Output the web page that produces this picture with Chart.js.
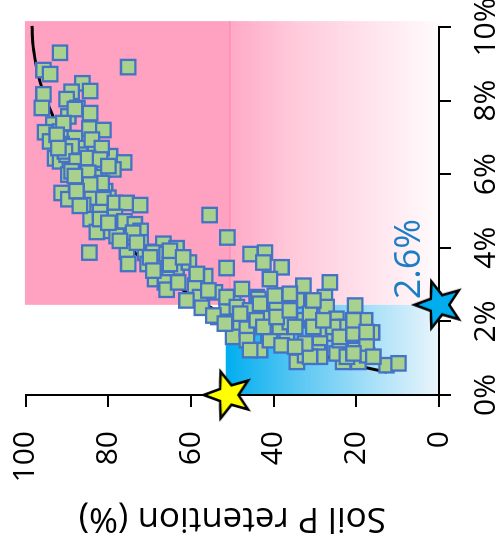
<!DOCTYPE html>
<html>
<head>
<meta charset="utf-8">
<title>Soil P retention</title>
<script src="https://cdn.jsdelivr.net/npm/chart.js@4.4.1/dist/chart.umd.min.js"></script>
<style>
    html, body { margin: 0; padding: 0; background: #fff; overflow: hidden; }
    /* el gráfico se dibuja en horizontal y se gira 90° como la figura original */
    #wrap {
        position: absolute; left: 0; top: 0;
        width: 553px; height: 500px;
        transform-origin: 0 0;
        transform: translate(0, 553px) rotate(-90deg);
    }
</style>
</head>
<body>
<div id="wrap"><canvas id="retentionChart" width="553" height="500"></canvas></div>
<script>
// Datos: P del suelo (%) frente a retención de P (%)
const soilP = [
    9.30, 8.83, 8.72, 8.91, 8.47, 8.24, 8.26, 8.17, 8.04, 7.80,
    7.80, 7.66, 7.35, 7.14, 7.16, 6.98, 6.98, 7.24, 7.20, 6.89,
    6.82, 6.71, 6.68, 6.49, 6.32, 6.43, 6.35, 6.19, 6.53, 6.24,
    6.19, 6.13, 6.13, 5.99, 5.93, 5.92, 6.53, 5.49, 5.32, 5.59,
    5.36, 5.54, 5.36, 5.32, 5.16, 5.22, 5.22, 5.16, 4.89, 4.78,
    4.97, 4.84, 4.72, 4.64, 4.46, 4.43, 4.32, 4.46, 4.28, 3.87,
    3.89, 3.56, 4.15, 3.86, 3.56, 3.89, 4.11, 3.99, 3.87, 3.56,
    3.68, 3.47, 3.60, 3.45, 3.27, 3.23, 3.20, 3.15, 3.83, 3.87,
    3.60, 3.47, 3.06, 3.15, 3.15, 3.06, 2.86, 3.06, 2.97, 2.79,
    2.66, 2.57, 2.37, 2.12, 2.38, 2.66, 2.88, 2.66, 2.12, 1.89,
    1.58, 1.80, 2.61, 2.21, 2.39, 2.70, 2.57, 1.94, 1.67, 2.03,
    1.67, 2.97, 2.66, 2.39, 2.21, 2.07, 1.85, 1.49, 1.31, 2.16,
    1.22, 1.49, 1.35, 1.67, 0.90, 0.90, 0.90, 0.81, 0.86, 1.49,
    1.22, 1.85, 1.98, 1.85, 1.40, 1.13, 1.04, 2.43, 2.03, 1.70,
    1.49, 1.22, 1.08, 1.16, 1.08,
    7.57, 7.77, 7.39, 7.07, 6.76, 6.62, 6.94, 6.71, 6.71, 6.35,
    6.44, 6.40, 6.22, 6.08, 6.04, 5.95, 5.76, 5.72, 5.54, 5.14,
    4.78, 4.68, 4.41, 4.19, 4.14, 3.74, 3.83, 3.56, 3.38, 3.92,
    3.74, 3.29, 2.84, 2.66, 2.39, 2.30, 2.48, 2.70, 2.75, 2.21,
    2.03, 1.94, 1.85, 2.12, 2.30, 1.85, 1.85, 1.58, 1.67, 1.40,
    1.04, 1.13, 1.04, 1.04, 1.40, 1.31, 2.03, 2.57, 2.03, 1.71
];
const retention = [
    91.7, 95.7, 94.1, 75.2, 86.3, 88.9, 84.4, 95.7, 90.1, 96.1,
    87.5, 84.4, 93.3, 95.3, 91.7, 89.5, 88.1, 84.6, 81.2, 94.1,
    91.3, 86.1, 83.2, 79.6, 76.2, 92.9, 91.7, 89.3, 86.9, 85.7,
    83.2, 81.1, 78.8, 89.7, 86.5, 83.2, 90.1, 91.3, 89.7, 86.1,
    84.0, 80.8, 80.0, 81.2, 86.1, 78.4, 75.6, 72.3, 55.5, 84.3,
    82.0, 78.4, 76.1, 73.6, 80.8, 82.8, 78.0, 72.2, 51.2, 84.6,
    75.5, 75.2, 72.2, 71.1, 70.5, 68.3, 66.7, 63.5, 69.1, 65.1,
    63.1, 63.5, 60.5, 51.4, 58.6, 56.6, 67.9, 65.9, 45.6, 42.1,
    42.5, 38.1, 26.4, 40.9, 68.7, 66.3, 65.9, 63.1, 59.0, 54.2,
    57.8, 61.1, 57.4, 53.4, 51.4, 49.8, 47.7, 44.1, 46.1, 48.1,
    49.8, 46.5, 43.7, 40.9, 39.3, 37.7, 34.4, 38.1, 36.8, 34.4,
    41.3, 32.8, 27.6, 27.2, 31.2, 24.8, 22.3, 19.1, 21.5, 54.6,
    43.3, 40.9, 38.1, 27.2, 34.4, 23.2, 19.5, 12.7, 9.8, 46.5,
    45.7, 38.5, 36.1, 30.4, 28.8, 24.8, 22.3, 20.3, 17.9, 16.2,
    24.0, 20.3, 17.4, 29.3, 32.4,
    89.7, 88.1, 90.9, 92.5, 88.9, 90.5, 84.0, 81.6, 92.1, 87.7,
    84.9, 82.0, 80.0, 88.9, 84.9, 88.1, 81.6, 84.4, 87.7, 86.9,
    82.0, 80.0, 74.0, 77.2, 73.1, 69.9, 65.9, 65.1, 69.1, 65.1,
    61.9, 58.6, 55.8, 51.4, 48.9, 45.7, 43.3, 39.7, 36.1, 48.1,
    44.1, 51.8, 42.5, 39.3, 36.1, 34.8, 25.6, 24.0, 20.7, 17.5,
    15.9, 20.7, 28.8, 31.2, 32.4, 34.8, 28.0, 30.4, 20.7, 17.5
];

// Curva ajustada
const curveP = [0.62, 0.80, 1.00, 1.35, 1.70, 2.00, 2.50, 3.00, 3.38, 3.84, 4.11, 4.57, 5.20, 6.00, 6.80, 7.57, 8.50, 9.40, 10.03];
const curveRet = [12.6, 19.8, 26.0, 34.4, 42.9, 48.9, 57.1, 63.8, 68.2, 73.3, 75.5, 78.9, 82.6, 86.7, 90.3, 93.4, 96.5, 98.1, 98.5];

// Umbrales y zonas
const thresholdP = 2.45;        // estrella azul
const thresholdLabel = '2.6%';
const labelAt = [2.6, 4.6];     // posición de la etiqueta (P, retención)
const thresholdRet = 51;        // estrella amarilla
const pinkZone = [2.45, 10.16, 0, 100.2];   // P min, P max, ret min, ret max
const pinkSeamRet = 50.6;
const blueZone = [0, 2.45, 0, 51.6];

// Ejes
const pTicks = [0, 2, 4, 6, 8, 10];
const retTicks = [0, 20, 40, 60, 80, 100];

const FONT = "'Open Sans', 'Liberation Sans', sans-serif";

// Estrella de cinco puntas como imagen para pointStyle
function makeStar(fill) {
    const size = 60, r = 24.5, ri = 10.2;
    const c = document.createElement('canvas');
    c.width = size; c.height = size;
    const g = c.getContext('2d');
    g.beginPath();
    for (let i = 0; i < 10; i++) {
        const rad = i % 2 === 0 ? r : ri;
        const a = -Math.PI / 2 + i * Math.PI / 5;
        const px = size / 2 + rad * Math.cos(a);
        const py = size / 2 + rad * Math.sin(a);
        if (i === 0) g.moveTo(px, py); else g.lineTo(px, py);
    }
    g.closePath();
    g.fillStyle = fill;
    g.fill();
    g.lineWidth = 2.6;
    g.lineJoin = 'miter';
    g.strokeStyle = '#000';
    g.stroke();
    return c;
}

// Zonas de fondo (rosa y azul) dibujadas antes de los ejes
const zonesPlugin = {
    id: 'zones',
    beforeDraw(chart) {
        const { ctx, scales: { x, y } } = chart;
        ctx.save();

        // zona rosa
        const pl = x.getPixelForValue(pinkZone[0]);
        const pr = x.getPixelForValue(pinkZone[1]);
        const pb = y.getPixelForValue(pinkZone[2]);
        const pt = y.getPixelForValue(pinkZone[3]);
        const seam = y.getPixelForValue(pinkSeamRet);
        ctx.fillStyle = '#FFA1C0';
        ctx.fillRect(pl, pt, pr - pl, seam - pt);
        const pg = ctx.createLinearGradient(0, seam, 0, pb);
        pg.addColorStop(0, '#FFA9C6');
        pg.addColorStop(0.3, '#FFC9DA');
        pg.addColorStop(0.7, '#FFE5EE');
        pg.addColorStop(1, '#FFFBFC');
        ctx.fillStyle = pg;
        ctx.fillRect(pl, seam, pr - pl, pb - seam);
        ctx.strokeStyle = '#FF7FA8';
        ctx.lineWidth = 1;
        ctx.beginPath();
        ctx.moveTo(pl, seam);
        ctx.lineTo(pr, seam);
        ctx.stroke();

        // zona azul
        const bl = x.getPixelForValue(blueZone[0]);
        const br = x.getPixelForValue(blueZone[1]);
        const bb = y.getPixelForValue(blueZone[2]);
        const bt = y.getPixelForValue(blueZone[3]);
        const bg = ctx.createLinearGradient(0, bt, 0, bb);
        bg.addColorStop(0, '#00AEEF');
        bg.addColorStop(0.35, '#5CC8F3');
        bg.addColorStop(0.7, '#ABE1F8');
        bg.addColorStop(1, '#EAF5FC');
        ctx.fillStyle = bg;
        ctx.fillRect(bl, bt, br - bl, bb - bt);

        ctx.restore();
    },
    afterDatasetsDraw(chart) {
        const { ctx, scales: { x, y } } = chart;
        ctx.save();
        ctx.font = '36px ' + FONT;
        ctx.fillStyle = '#1B7EC5';
        ctx.textAlign = 'left';
        ctx.textBaseline = 'alphabetic';
        ctx.fillText(thresholdLabel, x.getPixelForValue(labelAt[0]), y.getPixelForValue(labelAt[1]));
        ctx.restore();
    }
};

const ctx = document.getElementById('retentionChart');
const chart = new Chart(ctx.getContext('2d'), {
    type: 'scatter',
    data: {
        datasets: [
            {
                label: 'Umbrales',
                data: [{ x: 0, y: thresholdRet }, { x: thresholdP, y: 0 }],
                pointStyle: [makeStar('#FFFF00'), makeStar('#00AEEF')],
                pointRadius: 25,
                clip: false,
                order: 0
            },
            {
                label: 'Muestras',
                data: soilP.map((p, i) => ({ x: p, y: retention[i] })),
                pointStyle: 'rect',
                pointRadius: 10.2,
                backgroundColor: '#A9D18E',
                borderColor: '#4472C4',
                borderWidth: 2.3,
                clip: false,
                order: 1
            },
            {
                label: 'Ajuste',
                data: curveP.map((p, i) => ({ x: p, y: curveRet[i] })),
                showLine: true,
                pointRadius: 0,
                borderColor: '#000',
                borderWidth: 3,
                cubicInterpolationMode: 'monotone',
                clip: false,
                order: 2
            }
        ]
    },
    options: {
        responsive: false,
        animation: false,
        events: [],
        layout: { padding: { top: 25.7, right: 27, left: 0, bottom: 0 }, autoPadding: false },
        plugins: {
            legend: { display: false },
            tooltip: { enabled: false }
        },
        scales: {
            x: {
                type: 'linear',
                position: 'bottom',
                min: 0,
                max: 10,
                // tamaño fijo del eje, sin el relleno extra de las etiquetas
                afterFit: s => { s.height = 61; s.paddingLeft = 0; s.paddingRight = 0; },
                afterBuildTicks: s => { s.ticks = pTicks.map(v => ({ value: v })); },
                ticks: {
                    callback: v => v + '%',
                    color: '#000',
                    font: { family: FONT, size: 30 },
                    padding: 17,
                    maxRotation: 0,
                    autoSkip: false
                },
                grid: { drawOnChartArea: false, drawTicks: true, tickLength: 12, color: '#000', lineWidth: 2 },
                border: { display: true, color: '#000', width: 2 }
            },
            y: {
                type: 'linear',
                position: 'left',
                min: 0,
                max: 100,
                afterFit: s => { s.width = 158; s.paddingTop = 0; s.paddingBottom = 0; },
                afterBuildTicks: s => { s.ticks = retTicks.map(v => ({ value: v })); },
                ticks: {
                    color: '#000',
                    font: { family: FONT, size: 30 },
                    padding: 24,
                    autoSkip: false
                },
                title: {
                    display: true,
                    text: 'Soil P retention (%)',
                    color: '#000',
                    font: { family: FONT, size: 35 },
                    padding: { top: 14, bottom: 0 }
                },
                grid: { drawOnChartArea: false, drawTicks: true, tickLength: 12, color: '#000', lineWidth: 2 },
                border: { display: true, color: '#000', width: 2 }
            }
        }
    },
    plugins: [zonesPlugin]
});
</script>
</body>
</html>
